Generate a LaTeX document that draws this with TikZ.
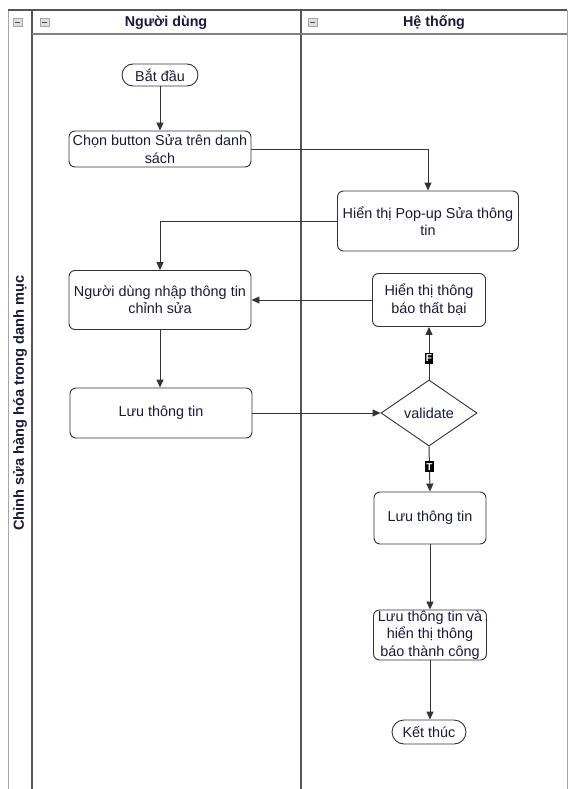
\documentclass[tikz,border=0pt]{standalone}
\usepackage{fontspec}
\setmainfont{Liberation Sans}
\usetikzlibrary{shapes.geometric,arrows.meta}
\definecolor{lane}{HTML}{555555}
\definecolor{edge}{HTML}{333333}
\definecolor{txt}{HTML}{1A1A3A}
\begin{document}
\begin{tikzpicture}[x=1pt,y=-1pt,
  box/.style={draw=edge, rounded corners=6pt, line width=0.9pt, align=center,
    font=\fontsize{14.4}{17.5}\selectfont, text=txt, inner sep=0pt, fill=white},
  term/.style={draw=edge, rounded corners=11pt, line width=0.9pt, align=center,
    font=\fontsize{14.4}{17}\selectfont, text=txt, inner sep=0pt, fill=white,
    minimum height=22pt},
  dec/.style={draw=edge, diamond, line width=0.9pt, font=\fontsize{14.4}{17}\selectfont,
    text=txt, inner sep=0pt, minimum width=96pt, minimum height=66pt, aspect=1.45, fill=white},
  flow/.style={draw=edge, line width=1pt, -{Triangle[width=7pt,length=8pt]}},
  lbl/.style={fill=black, text=white, font=\fontsize{10}{11}\selectfont\bfseries,
    inner xsep=1.2pt, inner ysep=2pt},
  icon/.style={draw=gray!70, fill=gray!25, line width=0.5pt},
  hdr/.style={font=\fontsize{14.3}{17}\selectfont\bfseries, text=txt},
]
\useasboundingbox (0,0) rectangle (568,789);
% pool and lanes
\draw[gray!70, line width=0.8pt] (8,789) -- (8,10);
\draw[gray!70, line width=0.8pt] (567,10) -- (567,789);
\draw[lane, line width=1.8pt] (8,10) -- (567,10);
\draw[lane, line width=1.8pt] (32,10) -- (32,789);
\draw[lane, line width=1.8pt] (301,10) -- (301,789);
\draw[gray, line width=1.5pt] (32,34) -- (567,34);
\draw[icon] (13,18) rectangle (22,26);
\draw[gray!60!black, line width=0.8pt] (15,22) -- (20,22);
\draw[icon] (40,18) rectangle (49,26);
\draw[gray!60!black, line width=0.8pt] (42,22) -- (47,22);
\draw[icon] (308,18) rectangle (317,26);
\draw[gray!60!black, line width=0.8pt] (310,22) -- (315,22);
\node[hdr] (h1) at (166,23) {Người dùng};
\node[hdr] (h2) at (434,23) {Hệ thống};
\node[hdr, font=\fontsize{14.6}{17}\selectfont\bfseries, rotate=90] (pool) at (20,403) {Chỉnh sửa hàng hóa trong danh mục};
% nodes
\node[term, minimum width=76pt] (start) at (160,75) {Bắt đầu};
\node[box, minimum width=182pt, minimum height=36pt] (chon) at (160,149) {Chọn button Sửa trên danh\\sách};
\node[box, minimum width=181pt, minimum height=60pt] (popup) at (428,221) {Hiển thị Pop-up Sửa thông\\tin};
\node[box, minimum width=182pt, minimum height=59pt] (nhap) at (160,300) {Người dùng nhập thông tin\\chỉnh sửa};
\node[box, minimum width=113pt, minimum height=53pt] (fail) at (429,300) {Hiển thị thông\\báo thất bại};
\node[box, minimum width=182pt, minimum height=50pt] (luu1) at (161,413) {Lưu thông tin};
\node[dec] (val) at (429,413) {validate};
\node[box, minimum width=112pt, minimum height=52pt] (luu2) at (430,518) {Lưu thông tin};
\node[box, minimum width=113pt, minimum height=50pt, text height=0pt, text depth=0pt] (ok) at (430,635) {};
\node[font=\fontsize{14.4}{17.5}\selectfont, text=txt, align=center, inner sep=0pt] (oktxt) at (ok.center) {Lưu thông tin và\\hiển thị thông\\báo thành công};
\node[term, minimum width=74pt, minimum height=24pt, rounded corners=12pt] (end) at (429,732) {Kết thúc};
% edges
\draw[flow] (start) -- (chon);
\draw[flow] (chon.east) -| (popup.north);
\draw[flow] (popup.west) -| (nhap.north);
\draw[flow] (nhap.south) -- (nhap.south |- luu1.north);
\draw[flow] (luu1.east) -- (val.west);
\draw[flow] (val.north) -- node[lbl, pos=0.4] {F} (fail.south);
\draw[flow] (val.south) -- node[lbl, pos=0.45] {T} (luu2.north);
\draw[flow] (fail.west) -- (nhap.east);
\draw[flow] (luu2.south) -- (ok.north);
\draw[flow] (ok.south) -- (ok.south |- end.north);
\end{tikzpicture}
\end{document}
